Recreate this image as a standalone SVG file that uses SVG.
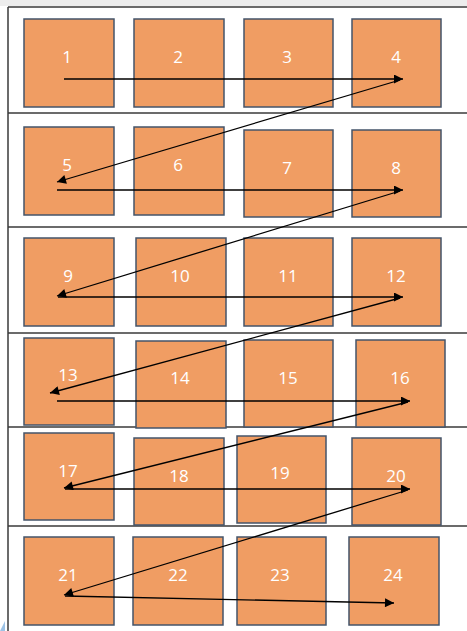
<svg xmlns="http://www.w3.org/2000/svg" width="467" height="631" viewBox="0 0 467 631">
<defs>
<style>
.box rect{fill:#F09D63;stroke:#44546A;stroke-width:1.5}
.box text{fill:#FFFFFF;font-family:"Open Sans","Liberation Sans",sans-serif;font-size:17px;text-anchor:middle;dominant-baseline:central}
.frame{stroke:#3A3A3A;stroke-width:1.5;fill:none}
.conn line{stroke:#000;stroke-width:1.3;fill:none;marker-end:url(#ah)}
</style>
<marker id="ah" viewBox="0 0 10 10" refX="10" refY="5" markerWidth="11" markerHeight="9" markerUnits="userSpaceOnUse" orient="auto">
<path d="M0,0 L10,5 L0,10 z" fill="#000"/>
</marker>
</defs>
<rect x="0" y="0" width="467" height="631" fill="#FFFFFF"/>
<rect x="0" y="0" width="467" height="6" fill="#EDEDED"/>
<g id="frame">
<line class="frame" x1="8" y1="7" x2="467" y2="7"/>
<line class="frame" x1="8" y1="7" x2="8" y2="631"/>
<line class="frame" x1="8" y1="113" x2="467" y2="113"/>
<line class="frame" x1="8" y1="227" x2="467" y2="227"/>
<line class="frame" x1="8" y1="333" x2="467" y2="333"/>
<line class="frame" x1="8" y1="427" x2="467" y2="427"/>
<line class="frame" x1="8" y1="526" x2="467" y2="526"/>
</g>
<polygon points="0,631 5,621 5,631" fill="#9DC3E6"/>
<g id="n1" class="box"><rect x="24" y="19" width="90" height="88"/><text x="67" y="56">1</text></g>
<g id="n2" class="box"><rect x="134" y="19" width="90" height="88"/><text x="178" y="56">2</text></g>
<g id="n3" class="box"><rect x="244" y="19" width="89" height="88"/><text x="287" y="56">3</text></g>
<g id="n4" class="box"><rect x="352" y="19" width="89" height="88"/><text x="396" y="56">4</text></g>
<g id="n5" class="box"><rect x="24" y="127" width="90" height="88"/><text x="67" y="164">5</text></g>
<g id="n6" class="box"><rect x="134" y="127" width="90" height="88"/><text x="178" y="164">6</text></g>
<g id="n7" class="box"><rect x="244" y="130" width="89" height="87"/><text x="287" y="167">7</text></g>
<g id="n8" class="box"><rect x="352" y="130" width="89" height="87"/><text x="396" y="167">8</text></g>
<g id="n9" class="box"><rect x="24" y="238" width="90" height="88"/><text x="68" y="275">9</text></g>
<g id="n10" class="box"><rect x="136" y="238" width="90" height="88"/><text x="180" y="275">10</text></g>
<g id="n11" class="box"><rect x="244" y="238" width="89" height="88"/><text x="288" y="275">11</text></g>
<g id="n12" class="box"><rect x="352" y="238" width="89" height="88"/><text x="396" y="275">12</text></g>
<g id="n13" class="box"><rect x="24" y="338" width="90" height="87"/><text x="68" y="374">13</text></g>
<g id="n14" class="box"><rect x="136" y="341" width="90" height="87"/><text x="180" y="377">14</text></g>
<g id="n15" class="box"><rect x="244" y="340" width="89" height="87"/><text x="288" y="377">15</text></g>
<g id="n16" class="box"><rect x="356" y="340" width="89" height="87"/><text x="400" y="377">16</text></g>
<g id="n17" class="box"><rect x="24" y="433" width="90" height="87"/><text x="68" y="470">17</text></g>
<g id="n18" class="box"><rect x="134" y="438" width="90" height="87"/><text x="179" y="475">18</text></g>
<g id="n19" class="box"><rect x="237" y="436" width="89" height="87"/><text x="280" y="472">19</text></g>
<g id="n20" class="box"><rect x="352" y="438" width="89" height="87"/><text x="396" y="475">20</text></g>
<g id="n21" class="box"><rect x="24" y="537" width="90" height="88"/><text x="68" y="574">21</text></g>
<g id="n22" class="box"><rect x="133" y="537" width="90" height="88"/><text x="178" y="574">22</text></g>
<g id="n23" class="box"><rect x="237" y="537" width="89" height="88"/><text x="280" y="574">23</text></g>
<g id="n24" class="box"><rect x="349" y="537" width="90" height="88"/><text x="393" y="574">24</text></g>
<g id="connectors" class="conn">
<line x1="64" y1="79" x2="403" y2="79"/>
<line x1="400" y1="80" x2="57" y2="182"/>
<line x1="57" y1="190" x2="403" y2="190"/>
<line x1="400" y1="191" x2="57" y2="296"/>
<line x1="58" y1="297" x2="403" y2="297"/>
<line x1="400" y1="298" x2="50" y2="393"/>
<line x1="57" y1="401" x2="410" y2="401"/>
<line x1="408" y1="402" x2="64" y2="488"/>
<line x1="65" y1="489" x2="410" y2="489"/>
<line x1="408" y1="490" x2="64" y2="595"/>
<line x1="65" y1="596" x2="394" y2="603"/>
</g>
</svg>
